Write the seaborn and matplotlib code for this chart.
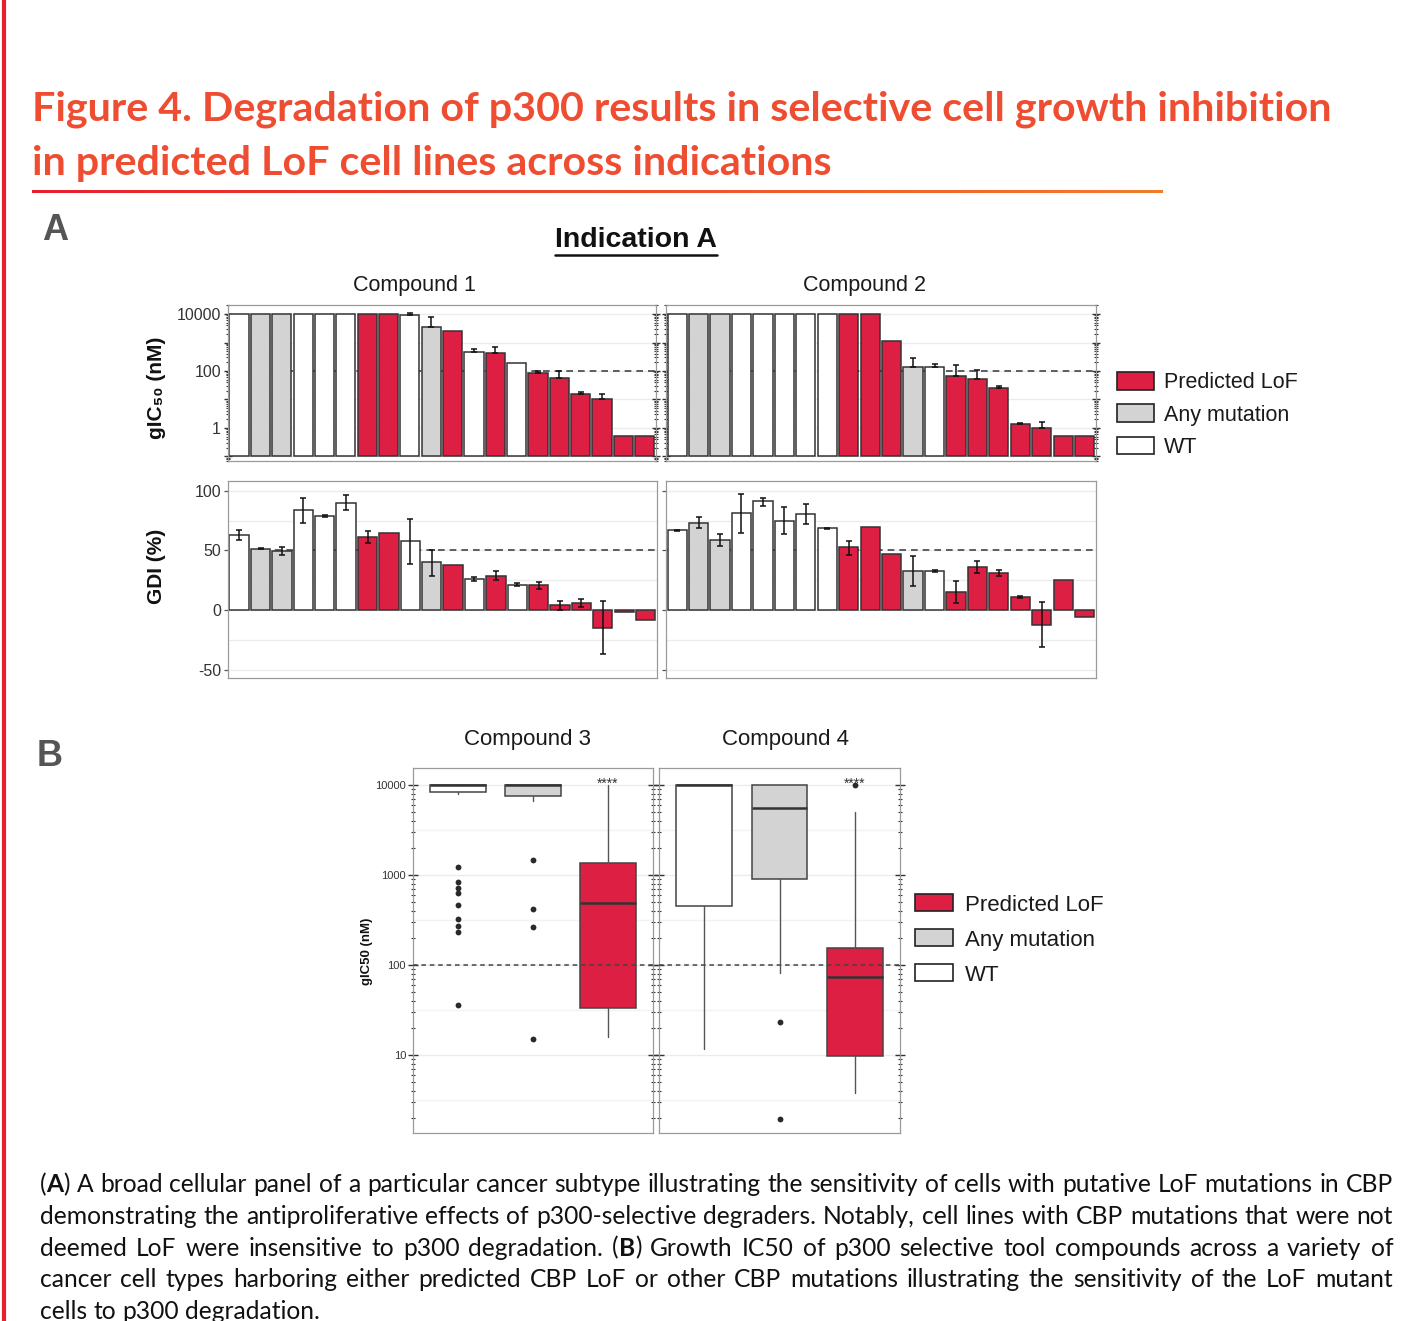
import numpy as np
import pandas as pd
import matplotlib
matplotlib.use('Agg')
import matplotlib.pyplot as plt
import seaborn as sns
from matplotlib.patches import Patch
from matplotlib.lines import Line2D
from matplotlib.colors import LinearSegmentedColormap
from matplotlib.ticker import LogLocator, NullFormatter

nan = np.nan
W, H = 1401, 1321

# ---------------- panel A : 20 cell lines per compound ----------------
groups_c1 = ['WT', 'Any mutation', 'Any mutation', 'WT', 'WT', 'WT',
             'Predicted LoF', 'Predicted LoF', 'WT', 'Any mutation',
             'Predicted LoF', 'WT', 'Predicted LoF', 'WT', 'Predicted LoF',
             'Predicted LoF', 'Predicted LoF', 'Predicted LoF', 'Predicted LoF',
             'Predicted LoF']
gic50_c1 = [10000, 10000, 10000, 10000, 10000, 10000, 10000, 10000, 9000, 3400,
            2520, 455, 420, 187, 83, 58, 15, 10, 0.52, 0.52]
gic50_up_c1 = [nan, nan, nan, nan, nan, nan, nan, nan, 10500, 7600,
               nan, 575, 710, nan, 102, 100, 18.6, 15.5, nan, nan]
gdi_c1 = [63, 51.4, 49.7, 84, 79, 90, 61, 65, 58, 40,
          38, 26, 29, 21.4, 21.4, 4, 6.4, -14.7, -1.4, -8.3]
gdi_lo_c1 = [59, 51, 46, 73, 78, 84, 56, nan, 39, 29,
             nan, 24.7, 25, 20, 18, 0.5, 2.8, -37, nan, nan]
gdi_hi_c1 = [67, 52, 53, 93.6, 80, 96, 66, nan, 76, 50,
             nan, 27.5, 33, 23, 24, 7.5, 9.7, 8, nan, nan]

groups_c2 = ['WT', 'Any mutation', 'Any mutation', 'WT', 'WT', 'WT', 'WT', 'WT',
             'Predicted LoF', 'Predicted LoF', 'Predicted LoF', 'Any mutation',
             'WT', 'Predicted LoF', 'Predicted LoF', 'Predicted LoF',
             'Predicted LoF', 'Predicted LoF', 'Predicted LoF', 'Predicted LoF']
gic50_c2 = [10000, 10000, 10000, 10000, 10000, 10000, 10000, 10000, 10000, 10000,
            1130, 141, 135, 66, 53, 25, 1.38, 0.98, 0.52, 0.52]
gic50_up_c2 = [nan, nan, nan, nan, nan, nan, nan, nan, nan, nan,
               nan, 295, 173, 158, 109, 30, 1.5, 1.66, nan, nan]
gdi_c2 = [67, 73, 59, 81, 91, 75, 80.5, 68.6, 52.5, 69.4,
          47.2, 32.5, 32.8, 15.3, 35.8, 31.4, 11.1, -12.5, 25.3, -5.8]
gdi_lo_c2 = [66.5, 68.6, 54, 65, 87.5, 64, 72, 68, 46, nan,
             nan, 20, 32.3, 5.8, 30.8, 28.3, 10.3, -30.8, nan, nan]
gdi_hi_c2 = [67.5, 78, 64, 97.5, 93.6, 86, 89, 69.2, 58, nan,
             nan, 45, 33.3, 24.7, 40.8, 34, 12, 6.7, nan, nan]

# ---------------- panel B : box summaries (WT, Any mutation, Predicted LoF) ----------------
box_groups = ['WT', 'Any mutation', 'Predicted LoF']
c3_q1 = [8300, 7600, 33]
c3_med = [10000, 10000, 485]
c3_q3 = [10000, 10000, 1370]
c3_lo = [8000, 6700, 16]
c3_hi = [10000, 10000, 10000]
c3_fliers = [[1220, 830, 723, 635, 464, 327, 274, 231, 36], [1480, 419, 262, 14.9], []]
c4_q1 = [453, 903, 9.8]
c4_med = [10000, 5500, 74]
c4_q3 = [10000, 10000, 156]
c4_lo = [11.6, 82, 3.8]
c4_hi = [10000, 10000, 4980]
c4_fliers = [[], [23, 1.95], [10000]]

legend_order = ['Predicted LoF', 'Any mutation', 'WT']
RED, GREY, EDGE = '#DC1F42', '#D3D3D3', '#333333'
pal = {'Predicted LoF': RED, 'Any mutation': GREY, 'WT': '#FFFFFF'}

sns.set_style('white')
plt.rcParams['font.family'] = ['Liberation Sans', 'DejaVu Sans']
CAP_FONT = ['Lato', 'DejaVu Sans']

fig = plt.figure(figsize=(W / 100, H / 100), dpi=100)


def px_axes(x0, y0, x1, y1):
    return fig.add_axes([x0 / W, 1 - y1 / H, (x1 - x0) / W, (y1 - y0) / H])


def frame(ax):
    for s in ax.spines.values():
        s.set_color('#9a9a9a')
        s.set_linewidth(0.9)
    ax.set_xlabel('')
    ax.set_ylabel('')
    ax.set_xticks([])


def bars(ax, vals, groups):
    df = pd.DataFrame({'cell': np.arange(len(vals)), 'val': vals, 'group': groups})
    sns.barplot(data=df, x='cell', y='val', hue='group', palette=pal, dodge=False,
                width=0.9, saturation=1, errorbar=None, edgecolor=EDGE,
                linewidth=1.1, legend=False, ax=ax, zorder=2)


def gic_panel(ax, vals, up, groups, labels):
    bars(ax, vals, groups)
    ax.set_yscale('log')
    for p in ax.patches:
        top = p.get_y() + p.get_height()
        p.set_y(0.1)
        p.set_height(top - 0.1)
    up = np.array(up)
    v = np.array(vals)
    m = ~np.isnan(up)
    ax.errorbar(np.arange(len(vals))[m], v[m], yerr=[np.zeros(m.sum()), up[m] - v[m]],
                fmt='none', ecolor='#111111', elinewidth=1.1, capsize=2.5, capthick=1.1, zorder=3)
    ax.axhline(100, ls=(0, (4, 3)), color='#444444', lw=1.2, zorder=1)
    for d in [0.1, 1, 10, 100, 1000, 10000]:
        ax.axhline(d, color='#ececec', lw=1, zorder=0)
    ax.set_ylim(0.0695, 20700)
    ax.set_xlim(-0.52, 19.53)
    frame(ax)
    ax.set_yticks([0.1, 1, 10, 100, 1000, 10000])
    ax.set_yticklabels(['', '1', '', '100', '', '10000'] if labels else [''] * 6)
    ax.yaxis.set_minor_locator(LogLocator(base=10, subs=np.arange(2, 10), numticks=30))
    ax.yaxis.set_minor_formatter(NullFormatter())
    ax.tick_params(axis='y', which='major', direction='inout', length=6, width=1,
                   left=True, right=True, labelsize=11.5, labelcolor='#333333', color='#333333', pad=2)
    ax.tick_params(axis='y', which='minor', direction='inout', length=3, width=0.8,
                   left=True, right=True, color='#333333')


def gdi_panel(ax, vals, lo, hi, groups, labels):
    bars(ax, vals, groups)
    v = np.array(vals)
    lo, hi = np.array(lo), np.array(hi)
    m = ~np.isnan(lo)
    ax.errorbar(np.arange(len(vals))[m], v[m], yerr=[v[m] - lo[m], hi[m] - v[m]],
                fmt='none', ecolor='#111111', elinewidth=1.1, capsize=2.5, capthick=1.1, zorder=3)
    ax.axhline(50, ls=(0, (4, 3)), color='#444444', lw=1.2, zorder=1)
    for d in [-50, -25, 0, 25, 50, 75, 100]:
        ax.axhline(d, color='#ececec', lw=1, zorder=0)
    ax.set_ylim(-56.7, 108.1)
    ax.set_xlim(-0.52, 19.53)
    frame(ax)
    ax.set_yticks([-50, 0, 50, 100])
    ax.set_yticklabels(['-50', '0', '50', '100'] if labels else [''] * 4)
    ax.tick_params(axis='y', which='major', direction='out', length=3, width=0.9,
                   left=True, labelsize=11.5, labelcolor='#333333', color='#555555', pad=2)


def box_panel(ax, q1, med, q3, lo, hi, fliers, labels):
    stats = [dict(med=med[i], q1=q1[i], q3=q3[i], whislo=lo[i], whishi=hi[i],
                  fliers=fliers[i]) for i in range(3)]
    res = ax.bxp(stats, positions=[0, 1, 2], widths=0.74, patch_artist=True, showcaps=False,
                 boxprops=dict(edgecolor='#444444', linewidth=1.1),
                 medianprops=dict(color='#333333', linewidth=1.8),
                 whiskerprops=dict(color='#555555', linewidth=1.0),
                 flierprops=dict(marker='o', markerfacecolor='#2a2a2a',
                                 markeredgecolor='none', markersize=4.2))
    for b, g in zip(res['boxes'], box_groups):
        b.set_facecolor(pal[g])
        b.set_zorder(2)
    ax.set_yscale('log')
    ax.set_ylim(1.36, 15450)
    ax.set_xlim(-0.6, 2.6)
    for d in [10, 100, 1000, 10000]:
        ax.axhline(d, color='#ececec', lw=1, zorder=0)
        ax.axhline(d / 10 ** 0.5, color='#f2f2f2', lw=1, zorder=0)
    ax.axhline(100, ls=(0, (3, 2.5)), color='#444444', lw=1.1, zorder=5)
    ax.annotate('****', (2, 10000), xytext=(0, 1), textcoords='offset points',
                ha='center', va='center', fontsize=10, color='#333333', zorder=6)
    frame(ax)
    ax.set_yticks([10, 100, 1000, 10000])
    ax.set_yticklabels(['10', '100', '1000', '10000'] if labels else [''] * 4)
    ax.yaxis.set_minor_locator(LogLocator(base=10, subs=np.arange(2, 10), numticks=30))
    ax.yaxis.set_minor_formatter(NullFormatter())
    ax.tick_params(axis='y', which='major', direction='inout', length=7, width=1,
                   left=True, right=True, labelsize=8, labelcolor='#333333', color='#333333', pad=1.5)
    ax.tick_params(axis='y', which='minor', direction='inout', length=3.5, width=0.8,
                   left=True, right=True, color='#333333')


ax1 = px_axes(228, 305, 656, 461)
ax2 = px_axes(666, 305, 1096, 461)
ax3 = px_axes(228, 481, 657, 678)
ax4 = px_axes(666, 481, 1096, 678)
gic_panel(ax1, gic50_c1, gic50_up_c1, groups_c1, True)
gic_panel(ax2, gic50_c2, gic50_up_c2, groups_c2, False)
gdi_panel(ax3, gdi_c1, gdi_lo_c1, gdi_hi_c1, groups_c1, True)
gdi_panel(ax4, gdi_c2, gdi_lo_c2, gdi_hi_c2, groups_c2, False)

ax5 = px_axes(413, 768, 653, 1133)
ax6 = px_axes(659, 768, 900, 1133)
box_panel(ax5, c3_q1, c3_med, c3_q3, c3_lo, c3_hi, c3_fliers, True)
box_panel(ax6, c4_q1, c4_med, c4_q3, c4_lo, c4_hi, c4_fliers, False)


def ftext(x, y, s, **kw):
    return fig.text(x / W, 1 - y / H, s, **kw)


# strip titles and axis labels
for x, y, s, fs in [(414, 286, 'Compound 1', 15.5), (864.5, 286, 'Compound 2', 15.5),
                    (527, 739, 'Compound 3', 16), (786, 739, 'Compound 4', 16)]:
    ftext(x, y, s, ha='center', va='center', fontsize=fs, color='#1a1a1a')
ftext(157, 388, 'gIC\u2085\u2080 (nM)', rotation=90, ha='center', va='center',
      fontsize=15, fontweight='bold', color='#111111')
ftext(157, 566, 'GDI (%)', rotation=90, ha='center', va='center',
      fontsize=15, fontweight='bold', color='#111111')
ftext(367, 951, 'gIC50 (nM)', rotation=90, ha='center', va='center',
      fontsize=9.5, fontweight='bold', color='#111111')

# legends
handles = [Patch(facecolor=pal[g], edgecolor='#222222', linewidth=1.2, label=g) for g in legend_order]
fig.legend(handles=handles, loc='center left', bbox_to_anchor=(1117 / W, 1 - 415 / H),
           frameon=False, fontsize=15.5, handlelength=1.7, handleheight=0.875,
           handletextpad=0.5, labelspacing=0.52, borderpad=0, borderaxespad=0, labelcolor='#1a1a1a')
fig.legend(handles=handles, loc='center left', bbox_to_anchor=(915 / W, 1 - 940 / H),
           frameon=False, fontsize=16, handlelength=1.7, handleheight=0.8,
           handletextpad=0.55, labelspacing=0.62, borderpad=0, borderaxespad=0, labelcolor='#1a1a1a')

# panel letters and heading
ftext(55, 230, 'A', ha='center', va='center', fontsize=26, fontweight='bold', color='#555555')
ftext(50, 757, 'B', ha='center', va='center', fontsize=26, fontweight='bold', color='#555555')
ind = ftext(636, 240, 'Indication A', ha='center', va='center', fontsize=20.5,
            fontweight='bold', color='#111111')

r = fig.canvas.get_renderer()
bb = ind.get_window_extent(r)
fig.add_artist(Line2D([bb.x0 / W, bb.x1 / W], [1 - 255 / H, 1 - 255 / H],
                      transform=fig.transFigure, color='#111111', lw=1.8))

# title, fitted to the reference width
TITLE_C = '#EF4D31'
t1 = ftext(32, 121, 'Figure 4. Degradation of p300 results in selective cell growth inhibition',
           ha='left', va='baseline', fontsize=30, fontweight='bold', color=TITLE_C, family=CAP_FONT)
fs_title = 30 * (1330 - 32) / t1.get_window_extent(r).width
t1.set_fontsize(fs_title)
ftext(32, 175, 'in predicted LoF cell lines across indications', ha='left', va='baseline',
      fontsize=fs_title, fontweight='bold', color=TITLE_C, family=CAP_FONT)

ax_u = px_axes(32, 190, 1163, 193.5)
ax_u.imshow(np.linspace(0, 1, 256)[None, :], aspect='auto',
            cmap=LinearSegmentedColormap.from_list('u', ['#E5202E', '#F47B2A']))
ax_u.axis('off')

fig.add_artist(Line2D([4 / W, 4 / W], [0, 1], transform=fig.transFigure, color='#E8202E', lw=3))

# caption, justified like the poster text
cap_lines = [
    "(*A*) A broad cellular panel of a particular cancer subtype illustrating the sensitivity of cells with putative LoF mutations in CBP",
    "demonstrating the antiproliferative effects of p300-selective degraders. Notably, cell lines with CBP mutations that were not",
    "deemed LoF were insensitive to p300 degradation. (*B*) Growth IC50 of p300 selective tool compounds across a variety of",
    "cancer cell types harboring either predicted CBP LoF or other CBP mutations illustrating the sensitivity of the LoF mutant",
    "cells to p300 degradation.",
]
CAP_X0, CAP_X1 = 40, 1393


def measure(s, bold, fs):
    t = fig.text(0, 0, s, fontsize=fs, fontweight='bold' if bold else 'normal', family=CAP_FONT)
    w = t.get_window_extent(r).width
    t.remove()
    return w


def split_words(line, fs):
    words = []
    for word in line.split(' '):
        parts = word.split('*')
        segs = [(p, i % 2 == 1) for i, p in enumerate(parts) if p]
        words.append([(p, b, measure(p, b, fs)) for p, b in segs])
    return words


# pick the size at which the widest line just fills the column with plain spaces
fs0 = 14
sp0 = measure('a a', False, fs0) - measure('aa', False, fs0)
natural = []
for line in cap_lines[:-1]:
    wds = split_words(line, fs0)
    natural.append(sum(w for wd in wds for _, _, w in wd) + sp0 * (len(wds) - 1))
CAP_FS = fs0 * 1348 / max(natural)

space_w = measure('a a', False, CAP_FS) - measure('aa', False, CAP_FS)
for k, line in enumerate(cap_lines):
    words = split_words(line, CAP_FS)
    total = sum(w for wd in words for _, _, w in wd)
    last = k == len(cap_lines) - 1
    gap = space_w if last else (CAP_X1 - CAP_X0 - total) / (len(words) - 1)
    x = CAP_X0
    y = 1192 + 31.8 * k
    for wd in words:
        for p, b, w in wd:
            ftext(x, y, p, ha='left', va='baseline', fontsize=CAP_FS,
                  fontweight='bold' if b else 'normal', color='#111111', family=CAP_FONT)
            x += w
        x += gap

fig.savefig('out.png', dpi=100)
